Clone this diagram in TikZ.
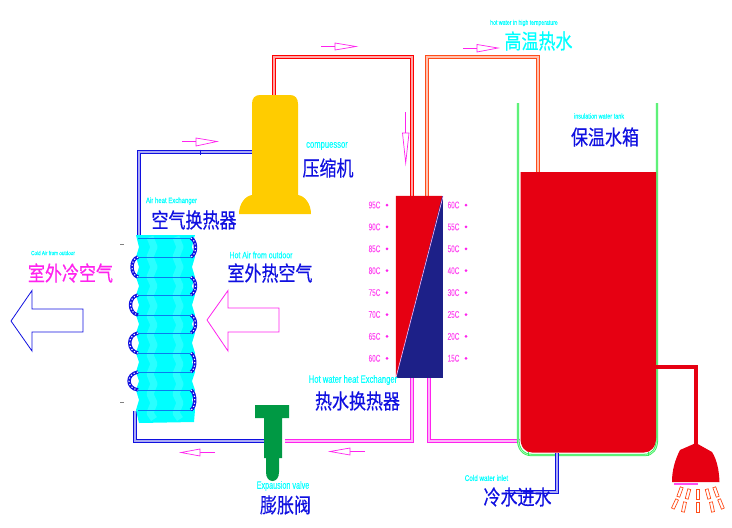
\documentclass[tikz,border=0pt]{standalone}
\usepackage{fontspec}
\setmainfont[FakeBold=0.1]{Liberation Sans}
\newfontfamily\cjk[FakeBold=0.5]{Noto Sans CJK SC}
\usetikzlibrary{calc}
\definecolor{cblue}{HTML}{1010E0}
\definecolor{ccyan}{HTML}{00FFFF}
\definecolor{cmag}{HTML}{FF22EE}
\definecolor{cred}{HTML}{E60012}
\definecolor{cnavy}{HTML}{1D2088}
\definecolor{cyel}{HTML}{FFCC00}
\definecolor{cgrn}{HTML}{009944}
\definecolor{corg}{HTML}{FF4D1A}
\definecolor{ctank}{HTML}{33EE55}
\tikzset{
 x=1pt,y=-1pt,
 pipe/.style={draw=#1,line width=.8pt,double=#1!35,double distance=1.5pt,line join=miter},
 zh/.style={inner sep=0,font=\cjk\fontsize{17}{17}\selectfont,text=#1,yscale=1.22},
 en/.style={inner sep=0,font=\fontsize{8.5}{9}\selectfont,text=ccyan,yscale=1.25},
 smalltxt/.style={inner sep=0,font=\fontsize{6}{6}\selectfont,text=ccyan,yscale=1.3},
 temp/.style={inner sep=0,font=\fontsize{7.5}{8}\selectfont,text=cmag!80,xscale=.85,yscale=1.3},
 tdot/.style={circle,fill=cmag,inner sep=0,minimum size=3pt},
 hollow/.style={draw=cmag,fill=white,line width=.7pt},
 flowline/.style={draw=cmag,line width=.7pt},
 bigarrow/.style={draw=#1,fill=white,line width=.8pt},
 coilbend/.style={draw=cblue,line width=3.4pt},
 benddots/.style={draw=white,line width=1.1pt,dash pattern=on 1.2pt off 2.2pt},
 coilrow/.style={draw=cblue!55!ccyan,line width=.7pt},
 dropbox/.style={draw=corg,fill=white,line width=.7pt,minimum width=3pt,minimum height=10pt,inner sep=0},
}
\begin{document}
\begin{tikzpicture}
\useasboundingbox (0,0) rectangle (732,528);
% named points
\coordinate (a1) at (274,95);\coordinate (a2) at (274,57);\coordinate (a3) at (412,57);\coordinate (a4) at (412,196);
\coordinate (b1) at (427,196);\coordinate (b2) at (427,57);\coordinate (b3) at (538,57);\coordinate (b4) at (538,175);
\coordinate (c1) at (412,378);\coordinate (c2) at (412,441);\coordinate (c3) at (285,441);
\coordinate (d1) at (429,378);\coordinate (d2) at (429,441);\coordinate (d3) at (520,441);
\coordinate (e1) at (264,441);\coordinate (e2) at (135,441);\coordinate (e3) at (135,411);
\coordinate (f1) at (252,152);\coordinate (f2) at (139,152);\coordinate (f3) at (139,238);
\coordinate (g1) at (557,453);\coordinate (g2) at (557,492);\coordinate (g3) at (505,492);
% pipes
\draw[pipe=red] (a1)--(a2)--(a3)--(a4);
\draw[pipe=corg] (b1)--(b2)--(b3)--(b4);
\draw[pipe=cmag] (c1)--(c2)--(c3);
\draw[pipe=cmag] (d1)--(d2)--(d3);
\draw[pipe=cblue] (e1)--(e2)--(e3);
\draw[pipe=cblue] (f1)--(f2)--(f3);
\draw[cblue,line width=.8pt] (200,149.5)--(200,155);
% compressor
\fill[cyel] (252,195) -- (252,104) .. controls (252,98) and (255,95) .. (260,95) -- (290,95) .. controls (295,95) and (298,98) .. (298,104) -- (298,195) .. controls (305,196) and (311,204) .. (311,214) -- (239,214) .. controls (239,204) and (245,196) .. (252,195) -- cycle;
% coil
\fill[ccyan] (136,235)--(195,235)--(194,238)--(192,247)--(195,257)--(192,267)--(195,277)--(192,286)--(195,295)--(192,305)--(195,315)--(192,324)--(195,333)--(192,343)--(195,353)--(192,362)--(195,372)--(192,381)--(195,390)--(192,400)--(195,410)--(194,422)--(139,423)--(136,410)--(139,400)--(136,390)--(139,381)--(136,372)--(139,362)--(136,353)--(139,343)--(136,333)--(139,324)--(136,315)--(139,305)--(136,295)--(139,286)--(136,277)--(139,267)--(136,257)--(139,247)--cycle;
\foreach \xx in {150,176}{
 \draw[white,opacity=.16,line width=7pt,line join=round] (\xx,237)--++(4,10)--++(-4,10)--++(4,10)--++(-4,10)--++(4,9)--++(-4,10)--++(4,10)--++(-4,10)--++(4,9)--++(-4,10)--++(4,10)--++(-4,10)--++(4,9)--++(-4,10)--++(4,10)--++(-4,10)--++(4,9)--++(-4,10)--++(4,6);}
\foreach \yy in {238,257,277,295,315,333,353,372,390,410}{\draw[coilrow] (138,\yy)--(193,\yy);}
% right bends
\foreach \ya/\yb/\ox in {238/257/197,277/295/197,315/333/197,353/372/196,390/410/196}{
 \draw[coilbend] (191,\ya) .. controls (\ox,\ya+3) and (\ox,\yb-3) .. (191,\yb);
 \draw[benddots] (191,\ya) .. controls (\ox,\ya+3) and (\ox,\yb-3) .. (191,\yb);}
% left bends
\foreach \ya/\yb/\ox in {257/277/130,295/315/128,333/353/127,372/390/126}{
 \draw[coilbend] (138,\ya) .. controls (\ox,\ya+2) and (\ox,\yb-2) .. (138,\yb);
 \draw[benddots] (138,\ya) .. controls (\ox,\ya+2) and (\ox,\yb-2) .. (138,\yb);}
\draw[gray,line width=.8pt] (120,244)--(123.5,244) (120,402)--(123.5,402);
% expansion valve
\fill[cgrn] (255,405)--(289,405)--(289,418)--(282,418)--(282,458)--(279,458)--(279,472) .. controls (279,478) and (276,481) .. (272.5,481) .. controls (269,481) and (266,478) .. (266,472) --(266,458)--(264,458)--(264,418)--(255,418)--cycle;
% exchanger
\node[minimum width=47pt,minimum height=182pt,inner sep=0,fill=cnavy] (hx) at (419.5,287) {};
\fill[cred] (hx.north west)--($(hx.north east)+(-1,0)$)--(hx.south west)--cycle;
\draw[white!70!cmag,line width=.6pt] (hx.north east)--(hx.south west);
\foreach \tl/\tr [count=\ii from 0] in {95C/60C,90C/55C,85C/50C,80C/40C,75C/30C,70C/25C,65C/20C,60C/15C}{
 \pgfmathsetmacro\yy{205+21.9*\ii}
 \node[temp] (tl\ii) at (374.5,\yy) {\tl};
 \node[tdot] (dl\ii) at (387,\yy) {};
 \node[temp] (tr\ii) at (453.5,\yy) {\tr};
 \node[tdot] (dr\ii) at (466,\yy) {};}
% tank
\draw[ctank,line width=.8pt,double=ctank!40,double distance=.8pt] (518,103)--(518,438) .. controls (518,449) and (523,455) .. (532,455) -- (644,455) .. controls (653,455) and (657,449) .. (657,438) -- (657,103);
\fill[cred] (520.5,172)--(656,172)--(656,438) .. controls (656,447) and (651,452.5) .. (644,452.5) -- (532,452.5) .. controls (525,452.5) and (520.5,447) .. (520.5,438) -- cycle;
\draw[ctank,line width=.7pt] (528,452)--(528,456) (648,452)--(648,456);
\draw[pipe=cblue] (g1)--(g2)--(g3);
% shower
\draw[cred,line width=4pt,miter limit=10] (655,367)--(696,367)--(696,446);
\fill[cred] (696,443)--(712,452) .. controls (717,460) and (719,470) .. (719.5,482) -- (672,482) .. controls (672,470) and (675,460) .. (680,450) -- cycle;
\draw[cmag!80,line width=1.4pt] (674,484)--(698,484);
\foreach \px/\py/\ang [count=\ii] in {680/492/-20,688/494/-15,698/494/0,708/494/15,716/492/20,675/504/-25,684/507/-12,698/507/0,712/507/12,721/504/22}{
 \node[dropbox,rotate=\ang] (dp\ii) at (\px,\py) {};}
% big arrows
\draw[bigarrow=cblue] (11,321)--(32,290.5)--(32,309)--(83,309)--(83,332)--(32,332)--(32,351)--cycle;
\draw[bigarrow=cmag] (207,320)--(228,290.5)--(228,308)--(279,308)--(279,332)--(228,332)--(228,351)--cycle;
% small arrows
\draw[flowline] (182,141.5)--(196,141.5); \draw[hollow] (196,138)--(217,141.5)--(196,146)--cycle;
\draw[flowline] (321,46.5)--(335,46.5); \draw[hollow] (335,43)--(356,46.5)--(335,50)--cycle;
\draw[flowline] (463,48)--(477,48); \draw[hollow] (477,44.5)--(498,48)--(477,52)--cycle;
\draw[flowline] (405.7,112)--(405.7,133); \draw[hollow] (402.5,133)--(405.7,163)--(409,133)--cycle;
\draw[flowline] (215,452.5)--(200,452.5); \draw[hollow] (200,449)--(181,452.5)--(200,456)--cycle;
\draw[flowline] (365,451.5)--(350,451.5); \draw[hollow] (350,448)--(330,451.5)--(350,455)--cycle;
% labels
\node[en,xscale=.9] (t1) at (327,146) {compuessor};
\node[zh=cblue] (t2) at (328,168) {压缩机};
\node[smalltxt] (t3) at (171.5,201) {Air heat Exchanger};
\node[zh=cblue] (t4) at (194,220) {空气换热器};
\node[smalltxt,font=\fontsize{4.6}{5}\selectfont] (t5) at (53,253) {Cold Air from outdoor};
\node[zh=cmag] (t6) at (70.5,273) {室外冷空气};
\node[smalltxt,font=\fontsize{7}{7}\selectfont] (t7) at (261,255) {Hot Air from outdoor};
\node[zh=cblue] (t8) at (270,273) {室外热空气};
\node[en,xscale=.9] (t9) at (353,380) {Hot water heat Exchanger};
\node[zh=cblue] (t10) at (357.5,401) {热水换热器};
\node[en,xscale=.85] (t11) at (283,486) {Expausion valve};
\node[zh=cblue] (t12) at (285.5,505) {膨胀阀};
\node[smalltxt,font=\fontsize{5.2}{6}\selectfont] (t13) at (524,23) {hot water in high temperature};
\node[zh=ccyan] (t14) at (538.5,41) {高温热水};
\node[smalltxt,font=\fontsize{5.5}{6}\selectfont] (t15) at (599,116) {insulation water tank};
\node[zh=cblue] (t16) at (605,137) {保温水箱};
\node[smalltxt,font=\fontsize{6.3}{7}\selectfont] (t17) at (486.5,478) {Cold water inlet};
\node[zh=cblue] (t18) at (517.5,497) {冷水进水};
\end{tikzpicture}
\end{document}
